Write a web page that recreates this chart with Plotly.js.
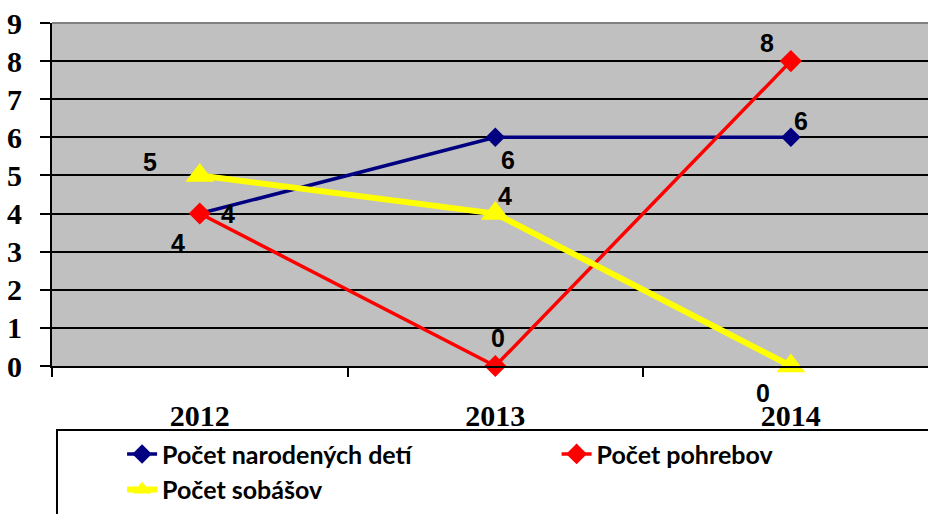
<!DOCTYPE html>
<html>
<head>
<meta charset="utf-8">
<script src="https://cdn.plot.ly/plotly-3.0.1.min.js"></script>
<style>html,body{margin:0;padding:0;background:#fff;}#chart{width:928px;height:514px;}</style>
</head>
<body>
<div id="chart"></div>
<script>
const years = ["2012", "2013", "2014"];
const births = [4, 6, 6];
const burials = [4, 0, 8];
const weddings = [5, 4, 0];
const seriesNames = ["Počet narodených detí", "Počet pohrebov", "Počet sobášov"];
const yTicks = [0, 1, 2, 3, 4, 5, 6, 7, 8, 9];

// label offsets in pixels from each point (dx right, dy down)
const birthsLabelOff = [[28, 0], [13, 23], [10, -16]];
const burialsLabelOff = [[-22, 29], [3, -28], [-24, -18]];
const weddingsLabelOff = [[-50, -13], [10, -18], [-28, 27]];

const labelFont = {family: "Liberation Sans, Arial, sans-serif", size: 25, color: "#000", weight: "bold"};

const traces = [
  {
    x: years, y: births, name: seriesNames[0], type: "scatter", mode: "lines+markers",
    line: {color: "#000080", width: 3.5},
    marker: {symbol: "diamond", size: 15, color: "#000080"},
    legend: "legend", cliponaxis: false
  },
  {
    x: years, y: burials, name: seriesNames[1], type: "scatter", mode: "lines+markers",
    line: {color: "#FF0000", width: 3.5},
    marker: {symbol: "diamond", size: 17, color: "#FF0000"},
    legend: "legend2", cliponaxis: false
  },
  {
    x: years, y: weddings, name: seriesNames[2], type: "scatter", mode: "lines+markers",
    line: {color: "#FFFF00", width: 6},
    marker: {symbol: "triangle-up", size: 25, color: "#FFFF00"},
    legend: "legend", cliponaxis: false
  }
];

// annotations placed on the category axis by category index
function labels(vals, offs) {
  return vals.map((v, i) => ({
    x: years.indexOf(years[i]), y: v, xref: "x", yref: "y", text: String(v), showarrow: false,
    xshift: offs[i][0], yshift: -offs[i][1], font: labelFont,
    xanchor: "center", yanchor: "middle"
  }));
}

const legendFont = {family: "Lato, Liberation Sans, sans-serif", size: 25, color: "#000", weight: "bold"};

const layout = {
  width: 928, height: 514,
  margin: {l: 52, r: 0, t: 23, b: 148, autoexpand: false},
  paper_bgcolor: "#ffffff",
  plot_bgcolor: "#C0C0C0",
  showlegend: true,
  xaxis: {
    type: "category", range: [-0.5, 2.464], automargin: false,
    tickson: "boundaries", ticks: "outside", ticklen: 9, tickwidth: 2, tickcolor: "#000",
    showgrid: false, showline: true, linecolor: "#000", linewidth: 2,
    tickfont: {family: "Liberation Serif, Times New Roman, serif", size: 30, color: "#000", weight: "bold"},
    ticklabelstandoff: 22, zeroline: false, fixedrange: true
  },
  yaxis: {
    range: [0, 9], tickvals: yTicks, ticktext: yTicks.map(String), automargin: false,
    ticks: "outside", ticklen: 10, tickwidth: 2, tickcolor: "#000",
    showgrid: true, gridcolor: "#000", gridwidth: 2,
    showline: true, linecolor: "#000", linewidth: 2, zeroline: false,
    tickfont: {family: "Liberation Serif, Times New Roman, serif", size: 30, color: "#000", weight: "bold"},
    ticklabelstandoff: 12, fixedrange: true
  },
  legend: {
    orientation: "v", x: 0.08, xanchor: "left", y: -0.19, yanchor: "top",
    font: legendFont, bgcolor: "rgba(0,0,0,0)", borderwidth: 0, traceorder: "normal"
  },
  legend2: {
    orientation: "v", x: 0.576, xanchor: "left", y: -0.19, yanchor: "top",
    font: legendFont, bgcolor: "rgba(0,0,0,0)", borderwidth: 0
  },
  annotations: [].concat(labels(births, birthsLabelOff), labels(burials, burialsLabelOff), labels(weddings, weddingsLabelOff)),
  shapes: [
    {type: "line", xref: "paper", yref: "paper", x0: 0, x1: 1, y0: 1, y1: 1, line: {color: "#808080", width: 2}},
    {type: "rect", xref: "paper", yref: "paper", x0: 0.0057, x1: 1.02, y0: -0.1866, y1: -0.45, line: {color: "#000", width: 2}, fillcolor: "rgba(0,0,0,0)", layer: "below"}
  ]
};

Plotly.newPlot("chart", traces, layout, {displayModeBar: false, staticPlot: true});
</script>
</body>
</html>
